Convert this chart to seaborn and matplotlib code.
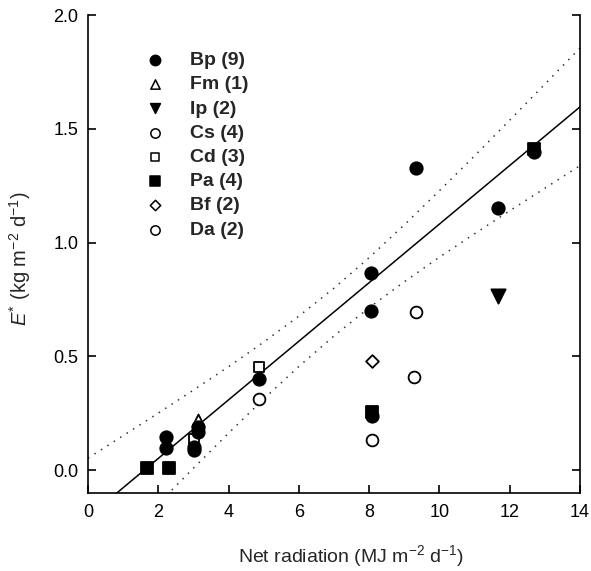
import matplotlib
matplotlib.use("Agg")
import matplotlib.pyplot as plt
import seaborn as sns
import numpy as np

# ---- data ----
bp_x = [2.21, 2.21, 3.12, 3.12, 3.03, 3.03, 4.88, 8.06, 8.06, 8.08, 9.32, 11.68, 12.70]
bp_y = [0.148, 0.097, 0.190, 0.170, 0.104, 0.087, 0.403, 0.868, 0.700, 0.240, 1.330, 1.152, 1.400]
fm_x = [3.12]
fm_y = [0.221]
ip_x = [11.68]
ip_y = [0.766]
cs_x = [8.08, 9.29, 9.32]
cs_y = [0.134, 0.410, 0.697]
cd_x = [3.03, 4.88]
cd_y = [0.137, 0.454]
pa_x = [1.67, 2.31, 8.08, 12.70]
pa_y = [0.010, 0.010, 0.255, 1.412]
bf_x = [8.08]
bf_y = [0.480]
da_x = [4.88]
da_y = [0.312]

species_labels = ["Bp (9)", "Fm (1)", "Ip (2)", "Cs (4)", "Cd (3)", "Pa (4)", "Bf (2)", "Da (2)"]

# regression line (two end points)
fit_x = [0.0, 14.0]
fit_y = [-0.2055, 1.5963]

# dotted confidence curves read at integer x
band_x = [0, 1, 2, 3, 4, 5, 6, 7, 8, 9, 10, 11, 12, 13, 14]
band_upper = [0.053, 0.152, 0.251, 0.352, 0.455, 0.563, 0.677, 0.800, 0.934, 1.078,
              1.228, 1.381, 1.538, 1.696, 1.855]
band_lower = [-0.464, -0.305, -0.147, 0.009, 0.163, 0.313, 0.456, 0.590, 0.714, 0.828,
              0.936, 1.039, 1.140, 1.239, 1.338]

x_ticks = [0, 2, 4, 6, 8, 10, 12, 14]
x_ticklabels = ["0", "2", "4", "6", "8", "10", "12", "14"]
y_ticks = [0.0, 0.5, 1.0, 1.5, 2.0]
y_ticklabels = ["0.0", "0.5", "1.0", "1.5", "2.0"]

# ---- style ----
sns.set_theme(style="ticks")
plt.rcParams["font.family"] = ["Liberation Sans", "DejaVu Sans"]
plt.rcParams["mathtext.fontset"] = "custom"
plt.rcParams["mathtext.rm"] = "Liberation Sans"
plt.rcParams["mathtext.it"] = "Liberation Sans:italic"
plt.rcParams["mathtext.bf"] = "Liberation Sans:bold"

fig = plt.figure(figsize=(5.91, 5.71), dpi=100)
ax = fig.add_axes([88 / 591, 78 / 571, 492 / 591, 478 / 571])

# lines
sns.lineplot(x=band_x, y=band_upper, ax=ax, color="#333333", linewidth=1.1,
             linestyle=(0, (1, 4)), sort=False, zorder=1)
sns.lineplot(x=band_x, y=band_lower, ax=ax, color="#333333", linewidth=1.1,
             linestyle=(0, (1, 4)), sort=False, zorder=1)
sns.lineplot(x=fit_x, y=fit_y, ax=ax, color="black", linewidth=1.1, sort=False, zorder=1)

series = [
    (bp_x, bp_y, "o", "black", 80, 6),
    (fm_x, fm_y, "^", "white", 75, 3),
    (ip_x, ip_y, "v", "black", 105, 5),
    (cs_x, cs_y, "o", "white", 72, 3),
    (cd_x, cd_y, "s", "white", 62, 3),
    (pa_x, pa_y, "s", "black", 68, 5),
    (bf_x, bf_y, "D", "white", 42, 3),
    (da_x, da_y, "o", "white", 72, 3),
]
legend_sizes = [55, 45, 50, 45, 38, 42, 28, 45]
for (xs, ys, mk, fc, sz, zo), lab in zip(series, species_labels):
    sns.scatterplot(x=xs, y=ys, ax=ax, marker=mk, color=fc, edgecolor="black",
                    linewidth=1.3, s=sz, zorder=zo, label=lab)

ax.set_xlim(0, 14)
ax.set_ylim(-0.1, 2.0)
ax.set_xticks(x_ticks)
ax.set_xticklabels(x_ticklabels)
ax.set_yticks(y_ticks)
ax.set_yticklabels(y_ticklabels)

for side in ["left", "bottom", "right"]:
    ax.spines[side].set_linewidth(1.2)
    ax.spines[side].set_color("black")
ax.spines["top"].set_visible(False)

ax.tick_params(axis="x", direction="in", length=6, width=1.2, pad=8,
               labelsize=13, colors="black", top=False)
ax.tick_params(axis="y", direction="in", length=6, width=1.2, pad=7,
               labelsize=13, colors="black", right=True)

ax.set_xlabel("Net radiation (MJ m$^{-2}$ d$^{-1}$)", fontsize=14)
ax.xaxis.set_label_coords(0.535, -0.105)
ax.set_ylabel("$E^{*}$ (kg m$^{-2}$ d$^{-1}$)", fontsize=14.5)
ax.yaxis.set_label_coords(-0.112, 0.49)

leg = ax.legend(loc="upper left", bbox_to_anchor=(0.101, 0.94), frameon=False,
                borderaxespad=0, handlelength=1.0, handletextpad=1.3,
                labelspacing=0.34, prop={"weight": "bold", "size": 14})
for h, s in zip(leg.legend_handles, legend_sizes):
    h.set_sizes([s])
    h.set_linewidth(1.1)

fig.savefig("out.png", dpi=100)
